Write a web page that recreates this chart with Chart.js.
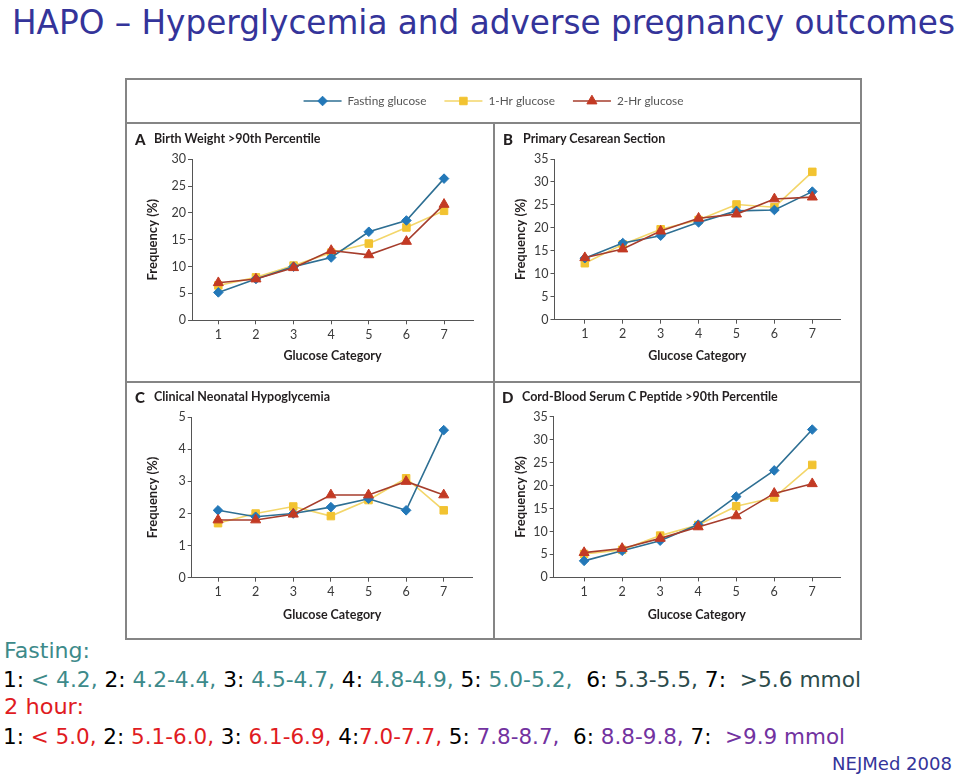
<!DOCTYPE html>
<html>
<head>
<meta charset="utf-8">
<script src="https://cdn.jsdelivr.net/npm/chart.js@4.4.0/dist/chart.umd.min.js"></script>
<style>
html,body{margin:0;padding:0;background:#fff;}
body{width:960px;height:775px;position:relative;overflow:hidden;}
.abs{position:absolute;white-space:nowrap;}
.fit{transform-origin:0 50%;}
.comic{font-family:"Comic Sans MS","DejaVu Sans",sans-serif;}
#frame{position:absolute;left:125px;top:78px;width:737px;height:562px;border:2px solid #858585;box-sizing:border-box;}
.ln{position:absolute;background:#858585;}
.ptitle{font-family:Lato,"Open Sans",sans-serif;font-weight:bold;font-size:12.5px;color:#231f20;line-height:16px;}
.plet{font-family:Lato,"Open Sans",sans-serif;font-weight:900;font-size:15px;color:#231f20;line-height:16px;}
.k{color:#000;}
.t{color:#3d8a8a;}
.d{color:#2c4b4b;}
.r{color:#e01b22;}
.p{color:#7232a0;}
</style>
</head>
<body>
<div id="title" class="abs comic fit" data-w="943" style="left:12px;top:1px;font-size:34px;line-height:42px;color:#34349a;">HAPO – Hyperglycemia and adverse pregnancy outcomes</div>

<div id="frame"></div>
<div class="ln" style="left:125px;top:122px;width:737px;height:2px;"></div>
<div class="ln" style="left:493px;top:122px;width:2px;height:518px;"></div>
<div class="ln" style="left:125px;top:381px;width:737px;height:2px;"></div>

<div class="abs" style="left:127px;top:80px;width:733px;height:42px;"><canvas id="legend"></canvas></div>
<div class="abs" style="left:127px;top:124px;width:366px;height:257px;"><canvas id="cA"></canvas></div>
<div class="abs" style="left:496px;top:124px;width:364px;height:257px;"><canvas id="cB"></canvas></div>
<div class="abs" style="left:127px;top:383px;width:366px;height:255px;"><canvas id="cC"></canvas></div>
<div class="abs" style="left:496px;top:383px;width:364px;height:255px;"><canvas id="cD"></canvas></div>

<div class="abs plet" style="left:135px;top:131px;">A</div>
<div class="abs ptitle" style="left:154px;top:131px;">Birth Weight &gt;90th Percentile</div>
<div class="abs plet" style="left:503px;top:131px;">B</div>
<div class="abs ptitle" style="left:523px;top:131px;">Primary Cesarean Section</div>
<div class="abs plet" style="left:135px;top:389px;">C</div>
<div class="abs ptitle" style="left:154px;top:389px;">Clinical Neonatal Hypoglycemia</div>
<div class="abs plet" style="left:502px;top:389px;">D</div>
<div class="abs ptitle" style="left:522px;top:389px;">Cord-Blood Serum C Peptide &gt;90th Percentile</div>

<div class="abs comic fit t" data-w="86" style="left:4px;top:637px;font-size:21px;line-height:28px;">Fasting:</div>
<div class="abs comic fit" data-w="858" style="left:3px;top:666px;font-size:21px;line-height:28px;"><span class="k">1: </span><span class="t">&lt; 4.2, </span><span class="k">2: </span><span class="t">4.2-4.4, </span><span class="k">3: </span><span class="t">4.5-4.7, </span><span class="k">4: </span><span class="t">4.8-4.9, </span><span class="k">5: </span><span class="t">5.0-5.2, </span>&nbsp;<span class="k">6: </span><span class="d">5.3-5.5, </span><span class="k">7: </span>&nbsp;<span class="d">&gt;5.6 mmol</span></div>
<div class="abs comic fit r" data-w="80" style="left:4px;top:693px;font-size:21px;line-height:28px;">2 hour:</div>
<div class="abs comic fit" data-w="842" style="left:3px;top:723px;font-size:21px;line-height:28px;"><span class="k">1: </span><span class="r">&lt; 5.0, </span><span class="k">2: </span><span class="r">5.1-6.0, </span><span class="k">3: </span><span class="r">6.1-6.9, </span><span class="k">4:</span><span class="r">7.0-7.7, </span><span class="k">5: </span><span class="p">7.8-8.7, </span>&nbsp;<span class="k">6: </span><span class="p">8.8-9.8, </span><span class="k">7: </span>&nbsp;<span class="p">&gt;9.9 mmol</span></div>
<div class="abs comic fit" data-w="120" style="left:832px;top:752px;font-size:17px;line-height:24px;color:#34349a;">NEJMed 2008</div>

<script>
// ---------- data ----------
const categories = [1, 2, 3, 4, 5, 6, 7];
const seriesNames = ['Fasting glucose', '1-Hr glucose', '2-Hr glucose'];

// A  Birth Weight >90th Percentile
const birthWeightFasting = [5.2, 7.7, 10.0, 11.7, 16.5, 18.6, 26.4];
const birthWeight1Hr     = [6.5, 8.0, 10.2, 12.6, 14.3, 17.3, 20.4];
const birthWeight2Hr     = [7.0, 7.7, 9.8, 13.0, 12.2, 14.7, 21.6];

// B  Primary Cesarean Section
const cesareanFasting = [13.4, 16.7, 18.3, 21.2, 23.7, 23.9, 27.9];
const cesarean1Hr     = [12.3, 16.4, 19.7, 21.7, 25.1, 24.5, 32.2];
const cesarean2Hr     = [13.5, 15.4, 19.3, 22.1, 23.0, 26.3, 26.7];

// C  Clinical Neonatal Hypoglycemia
const hypoFasting = [2.1, 1.9, 2.0, 2.2, 2.46, 2.1, 4.6];
const hypo1Hr     = [1.7, 2.0, 2.22, 1.92, 2.42, 3.1, 2.1];
const hypo2Hr     = [1.8, 1.8, 1.98, 2.58, 2.58, 3.0, 2.58];

// D  Cord-Blood Serum C Peptide >90th Percentile
const cPeptideFasting = [3.6, 5.8, 8.0, 11.5, 17.6, 23.3, 32.2];
const cPeptide1Hr     = [5.1, 6.0, 9.1, 11.4, 15.5, 17.4, 24.5];
const cPeptide2Hr     = [5.4, 6.3, 8.5, 11.0, 13.4, 18.3, 20.4];

const yTicksAB = [0, 5, 10, 15, 20, 25, 30];
const yTicksBD = [0, 5, 10, 15, 20, 25, 30, 35];
const yTicksC  = [0, 1, 2, 3, 4, 5];

// ---------- styles ----------
const styles = [
  {borderColor:'#2e6f93', pointBackgroundColor:'#2378b8', pointBorderColor:'#2378b8', pointStyle:'rectRot', pointRadius:4.8, order:2},
  {borderColor:'#f3d66a', pointBackgroundColor:'#f2c331', pointBorderColor:'#f2c331', pointStyle:'rect', pointRadius:5.3, order:3},
  {borderColor:'#a63d2c', pointBackgroundColor:'#c33a24', pointBorderColor:'#c33a24', pointStyle:'triangle', pointRadius:5.8, order:1}
];
const FONT = 'Lato, "Open Sans", sans-serif';

function makeDatasets(arrs) {
  return arrs.map((vals, i) => Object.assign({
    label: seriesNames[i],
    data: categories.map((c, j) => ({x: c, y: vals[j]})),
    borderWidth: 1.6,
    pointBorderWidth: 1,
    pointHoverRadius: 5,
    tension: 0,
    fill: false
  }, styles[i]));
}

function makePanel(id, arrs, yTicks, geo) {
  const ymax = yTicks[yTicks.length - 1];
  new Chart(document.getElementById(id), {
    type: 'line',
    data: {datasets: makeDatasets(arrs)},
    options: {
      responsive: true,
      maintainAspectRatio: false,
      animation: false,
      layout: {padding: {top: geo.top, right: geo.right, left: 0, bottom: 0}},
      plugins: {legend: {display: false}, tooltip: {enabled: false}},
      scales: {
        x: {
          type: 'linear', min: geo.xmin, max: geo.xmax,
          afterBuildTicks: s => { s.ticks = categories.map(v => ({value: v})); },
          afterFit: s => { s.height = geo.xh; },
          grid: {drawOnChartArea: false, drawTicks: true, tickLength: 4, color: '#555', lineWidth: 1},
          border: {display: true, color: '#555', width: 1},
          ticks: {font: {family: FONT, size: 12.5}, color: '#3a3a3a', padding: 3, maxRotation: 0, autoSkip: false},
          title: {display: true, text: 'Glucose Category', font: {family: FONT, size: 12.5, weight: 'bold'}, color: '#231f20', padding: {top: 0, bottom: geo.xtp}}
        },
        y: {
          type: 'linear', min: 0, max: ymax,
          afterBuildTicks: s => { s.ticks = yTicks.map(v => ({value: v})); },
          afterFit: s => { s.width = geo.left; },
          grid: {drawOnChartArea: false, drawTicks: true, tickLength: 4, color: '#555', lineWidth: 1},
          border: {display: true, color: '#555', width: 1},
          ticks: {font: {family: FONT, size: 12.5}, color: '#3a3a3a', padding: 2},
          title: {display: true, text: 'Frequency (%)', font: {family: FONT, size: 13, weight: 'bold'}, color: '#231f20', padding: {top: geo.ytp, bottom: 0}}
        }
      }
    }
  });
}

makePanel('cA', [birthWeightFasting, birthWeight1Hr, birthWeight2Hr], yTicksAB,
  {left: 65, top: 35.3, right: 20, xh: 60.7, xmin: 0.3, xmax: 7.77, xtp: 17.5, ytp: 18});
makePanel('cB', [cesareanFasting, cesarean1Hr, cesarean2Hr], yTicksBD,
  {left: 58.5, top: 35, right: 20, xh: 61.3, xmin: 0.2, xmax: 7.73, xtp: 17.5, ytp: 17.5});
makePanel('cC', [hypoFasting, hypo1Hr, hypo2Hr], yTicksC,
  {left: 64.7, top: 34.3, right: 20.3, xh: 60.3, xmin: 0.3, xmax: 7.77, xtp: 15.5, ytp: 18});
makePanel('cD', [cPeptideFasting, cPeptide1Hr, cPeptide2Hr], yTicksBD,
  {left: 57.7, top: 33.7, right: 20, xh: 60.6, xmin: 0.2, xmax: 7.73, xtp: 15.5, ytp: 17.5});

// ---------- legend (drawn by a plugin on its own chart) ----------
const lineLegend = {
  id: 'lineLegend',
  afterDraw(chart) {
    const ctx = chart.ctx;
    const dss = chart.data.datasets;
    ctx.save();
    ctx.font = '11.8px ' + FONT;
    const lineLen = 38, gapText = 6, gapItem = 18;
    const widths = dss.map(d => ctx.measureText(d.label).width);
    let total = widths.reduce((a, w) => a + lineLen + gapText + w, 0) + gapItem * (dss.length - 1);
    let x = (chart.width - total) / 2;
    const y = 21;
    dss.forEach((d, i) => {
      ctx.strokeStyle = d.borderColor;
      ctx.lineWidth = 1.6;
      ctx.beginPath(); ctx.moveTo(x, y); ctx.lineTo(x + lineLen, y); ctx.stroke();
      ctx.fillStyle = d.pointBackgroundColor;
      ctx.strokeStyle = d.pointBorderColor;
      ctx.lineWidth = 1;
      Chart.helpers.drawPoint(ctx, {pointStyle: d.pointStyle, radius: d.pointRadius, rotation: 0, borderWidth: 1}, x + lineLen / 2, y);
      ctx.fillStyle = '#555';
      ctx.textBaseline = 'middle';
      ctx.textAlign = 'left';
      ctx.fillText(d.label, x + lineLen + gapText, y);
      x += lineLen + gapText + widths[i] + gapItem;
    });
    ctx.restore();
  }
};
new Chart(document.getElementById('legend'), {
  type: 'line',
  data: {datasets: makeDatasets([[], [], []]).map(d => Object.assign(d, {data: []}))},
  options: {
    responsive: true, maintainAspectRatio: false, animation: false,
    plugins: {legend: {display: false}, tooltip: {enabled: false}},
    scales: {x: {display: false}, y: {display: false}}
  },
  plugins: [lineLegend]
});

// ---------- fit free text widths ----------
document.querySelectorAll('.fit').forEach(el => {
  const w = el.getBoundingClientRect().width;
  const target = parseFloat(el.dataset.w);
  el.style.transform = 'scaleX(' + (target / w) + ')';
});
</script>
</body>
</html>
